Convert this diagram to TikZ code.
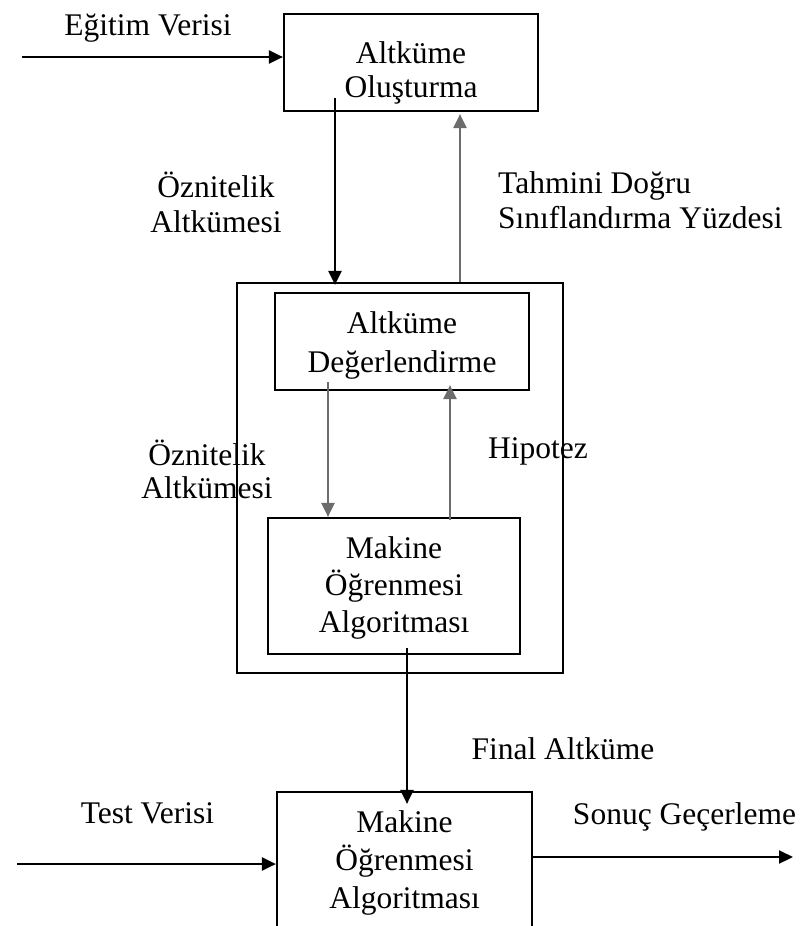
\documentclass[tikz,border=0pt]{standalone}
\usepackage{fontspec}
\setmainfont{Liberation Serif}
\usetikzlibrary{arrows.meta}
\begin{document}
\begin{tikzpicture}[x=1pt,y=-1pt,
  box/.style={draw=black, line width=2.2pt, inner sep=0pt, rectangle},
  txt/.style={font=\fontsize{31.5}{#1}\selectfont, align=center, anchor=base, inner sep=0pt},
  txt/.default=35,
  arr/.style={line width=2.2pt, draw=black, -{Triangle[length=14pt,width=13pt]}},
  garr/.style={arr, draw=gray!85!black, fill=gray!85!black}]
\clip (0,0) rectangle (808,926);
\useasboundingbox (0,0) rectangle (808,926);

% boxes
\node[box, minimum width=254pt, minimum height=97pt] (topbox) at (411,62.5) {};
\node[box, minimum width=326pt, minimum height=390pt] (outer) at (400,478) {};
\node[box, minimum width=254pt, minimum height=97pt] (eval) at (402,341.5) {};
\node[box, minimum width=252pt, minimum height=136pt] (ml) at (394,586) {};
\node[box, minimum width=255pt, minimum height=142pt] (final) at (404.5,863) {};

% box texts (anchor base = last line)
\node[txt=34] (ttop) at (411,97) {Altküme\\Oluşturma};
\node[txt=38.5] (teval) at (402,372) {Altküme\\Değerlendirme};
\node[txt=37] (tml) at (394,632) {Makine\\Öğrenmesi\\Algoritması};
\node[txt=38] (tfinal) at (404.5,908) {Makine\\Öğrenmesi\\Algoritması};

% labels
\node[txt] (legitim) at (148,35) {Eğitim Verisi};
\node[txt] (lozn1) at (216,232) {Öznitelik\\Altkümesi};
\node[txt, align=left, anchor=base west] (ltahmin) at (498,228) {Tahmini Doğru\\Sınıflandırma Yüzdesi};
\node[txt=33] (lozn2) at (207,498) {Öznitelik\\Altkümesi};
\node[txt] (lhip) at (538,458) {Hipotez};
\node[txt] (lfinal) at (563,759) {Final Altküme};
\node[txt] (ltest) at (147.5,823) {Test Verisi};
\node[txt] (lsonuc) at (684.5,824) {Sonuç Geçerleme};

% free ends
\coordinate (egin) at (22,57);
\coordinate (testin) at (17,864);
\coordinate (sonout) at (793,857);

% connectors
\draw[arr] (egin) -- (egin -| topbox.west);
\draw[arr] ([xshift=-76pt,yshift=14pt]topbox.south) -- ([xshift=-65pt,yshift=-3pt]outer.north);
\draw[garr] ([xshift=60pt]outer.north) -- ([xshift=49pt,yshift=-2pt]topbox.south);
\draw[garr] ([xshift=-74pt,yshift=9pt]eval.south) -- ([xshift=-66pt]ml.north);
\draw[garr] ([xshift=56pt,yshift=-3pt]ml.north) -- ([xshift=48pt,yshift=6pt]eval.south);
\draw[arr] ([xshift=13pt,yshift=7pt]ml.south) -- ([xshift=2.5pt,yshift=-13pt]final.north);
\draw[arr] (testin) -- (testin -| final.west);
\draw[arr] (sonout -| final.east) -- (sonout);
\end{tikzpicture}
\end{document}
